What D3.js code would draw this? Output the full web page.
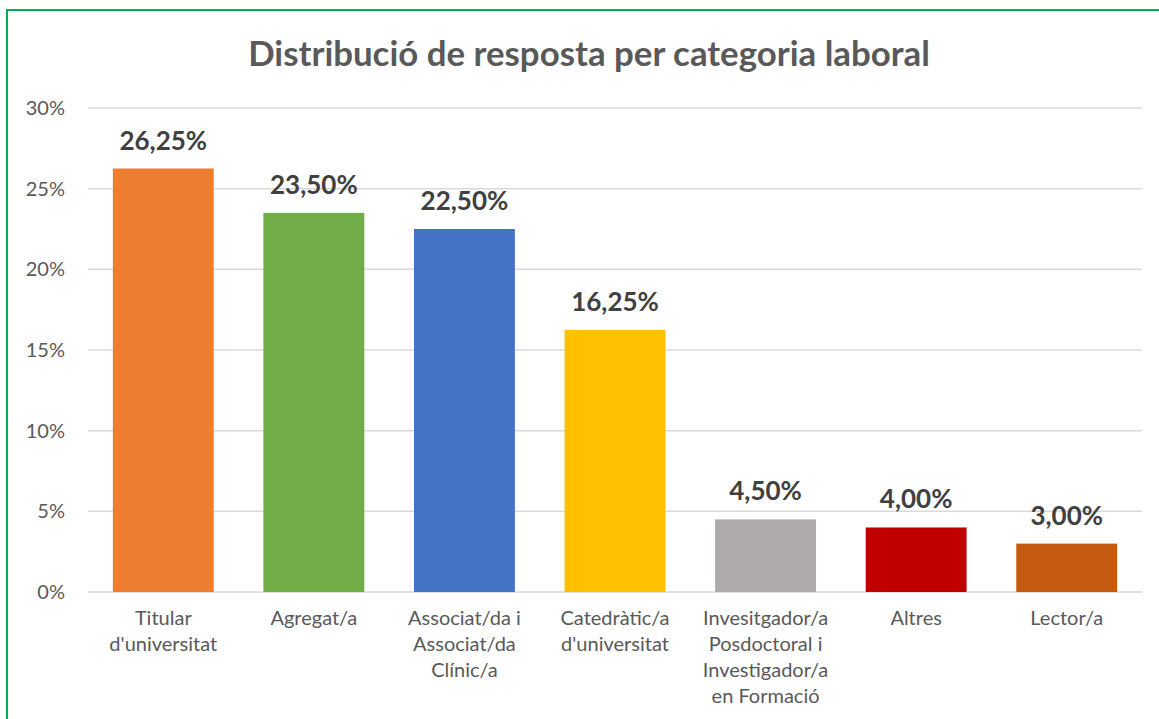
<!DOCTYPE html>
<html>
<head>
<meta charset="utf-8">
<script src="https://cdn.jsdelivr.net/npm/d3@7"></script>
<style>
    html, body { margin: 0; padding: 0; background: #fff; }
    svg { display: block; }
</style>
</head>
<body>
<div id="chart"></div>
<script>
const title = 'Distribució de resposta per categoria laboral';
const categories = [
    ['Titular', "d'universitat"],
    ['Agregat/a'],
    ['Associat/da i', 'Associat/da', 'Clínic/a'],
    ['Catedràtic/a', "d'universitat"],
    ['Invesitgador/a', 'Posdoctoral i', 'Investigador/a', 'en Formació'],
    ['Altres'],
    ['Lector/a']
];
const values = [26.25, 23.50, 22.50, 16.25, 4.50, 4.00, 3.00];
const colors = ['#ED7D31', '#70AD47', '#4472C4', '#FFC000', '#AEAAAA', '#C00000', '#C55A11'];
const yTicks = [0, 5, 10, 15, 20, 25, 30];

const width = 1159, height = 719;
const margin = { top: 108, right: 17, bottom: 127, left: 88 };
const font = 'Lato, "Open Sans", sans-serif';

const svg = d3.select('#chart').append('svg')
    .attr('width', width)
    .attr('height', height)
    .style('font-family', font);

// green frame, runs off the right and bottom edges
svg.append('rect')
    .attr('x', 7).attr('y', 10)
    .attr('width', width + 10).attr('height', height + 10)
    .attr('fill', 'none')
    .attr('stroke', '#00B050')
    .attr('stroke-width', 2);

const xScale = d3.scaleBand()
    .domain(d3.range(values.length))
    .range([margin.left, width - margin.right])
    .paddingInner(0.33)
    .paddingOuter(0.165);

const yScale = d3.scaleLinear()
    .domain([0, 30])
    .range([height - margin.bottom, margin.top]);

// title, fitted to the width it has in the picture
const titleText = svg.append('text')
    .attr('x', (248 + 930) / 2)
    .attr('y', 66)
    .attr('text-anchor', 'middle')
    .attr('fill', '#595959')
    .attr('font-weight', 'bold')
    .attr('font-size', 32)
    .text(title);
const tw = titleText.node().getComputedTextLength();
titleText.attr('font-size', 32 * 682 / tw);

// gridlines
svg.append('g')
    .selectAll('line')
    .data(yTicks)
    .join('line')
    .attr('x1', xScale.range()[0])
    .attr('x2', xScale.range()[1])
    .attr('y1', d => yScale(d))
    .attr('y2', d => yScale(d))
    .attr('stroke', '#D9D9D9')
    .attr('stroke-width', 1.5);

// y axis labels
svg.append('g')
    .selectAll('text')
    .data(yTicks)
    .join('text')
    .attr('x', 65)
    .attr('y', d => yScale(d))
    .attr('dy', '0.35em')
    .attr('text-anchor', 'end')
    .attr('fill', '#595959')
    .attr('font-size', 20)
    .text(d => d + '%');

// bars
svg.append('g')
    .selectAll('rect')
    .data(values)
    .join('rect')
    .attr('x', (d, i) => xScale(i))
    .attr('width', xScale.bandwidth())
    .attr('y', d => yScale(d))
    .attr('height', d => yScale(0) - yScale(d))
    .attr('fill', (d, i) => colors[i]);

// value labels
const fmt = d => d.toFixed(2).replace('.', ',') + '%';
svg.append('g')
    .selectAll('text')
    .data(values)
    .join('text')
    .attr('x', (d, i) => xScale(i) + xScale.bandwidth() / 2)
    .attr('y', d => yScale(d) - 19)
    .attr('text-anchor', 'middle')
    .attr('fill', '#404040')
    .attr('font-weight', 'bold')
    .attr('font-size', 26)
    .text(fmt);

// category labels
const catG = svg.append('g')
    .selectAll('text')
    .data(categories)
    .join('text')
    .attr('x', (d, i) => xScale(i) + xScale.bandwidth() / 2)
    .attr('y', yScale(0) + 33)
    .attr('text-anchor', 'middle')
    .attr('fill', '#595959')
    .attr('font-size', 20);

catG.selectAll('tspan')
    .data(d => d)
    .join('tspan')
    .attr('x', function() { return d3.select(this.parentNode).attr('x'); })
    .attr('dy', (d, i) => i == 0 ? 0 : 26)
    .text(d => d);
</script>
</body>
</html>
